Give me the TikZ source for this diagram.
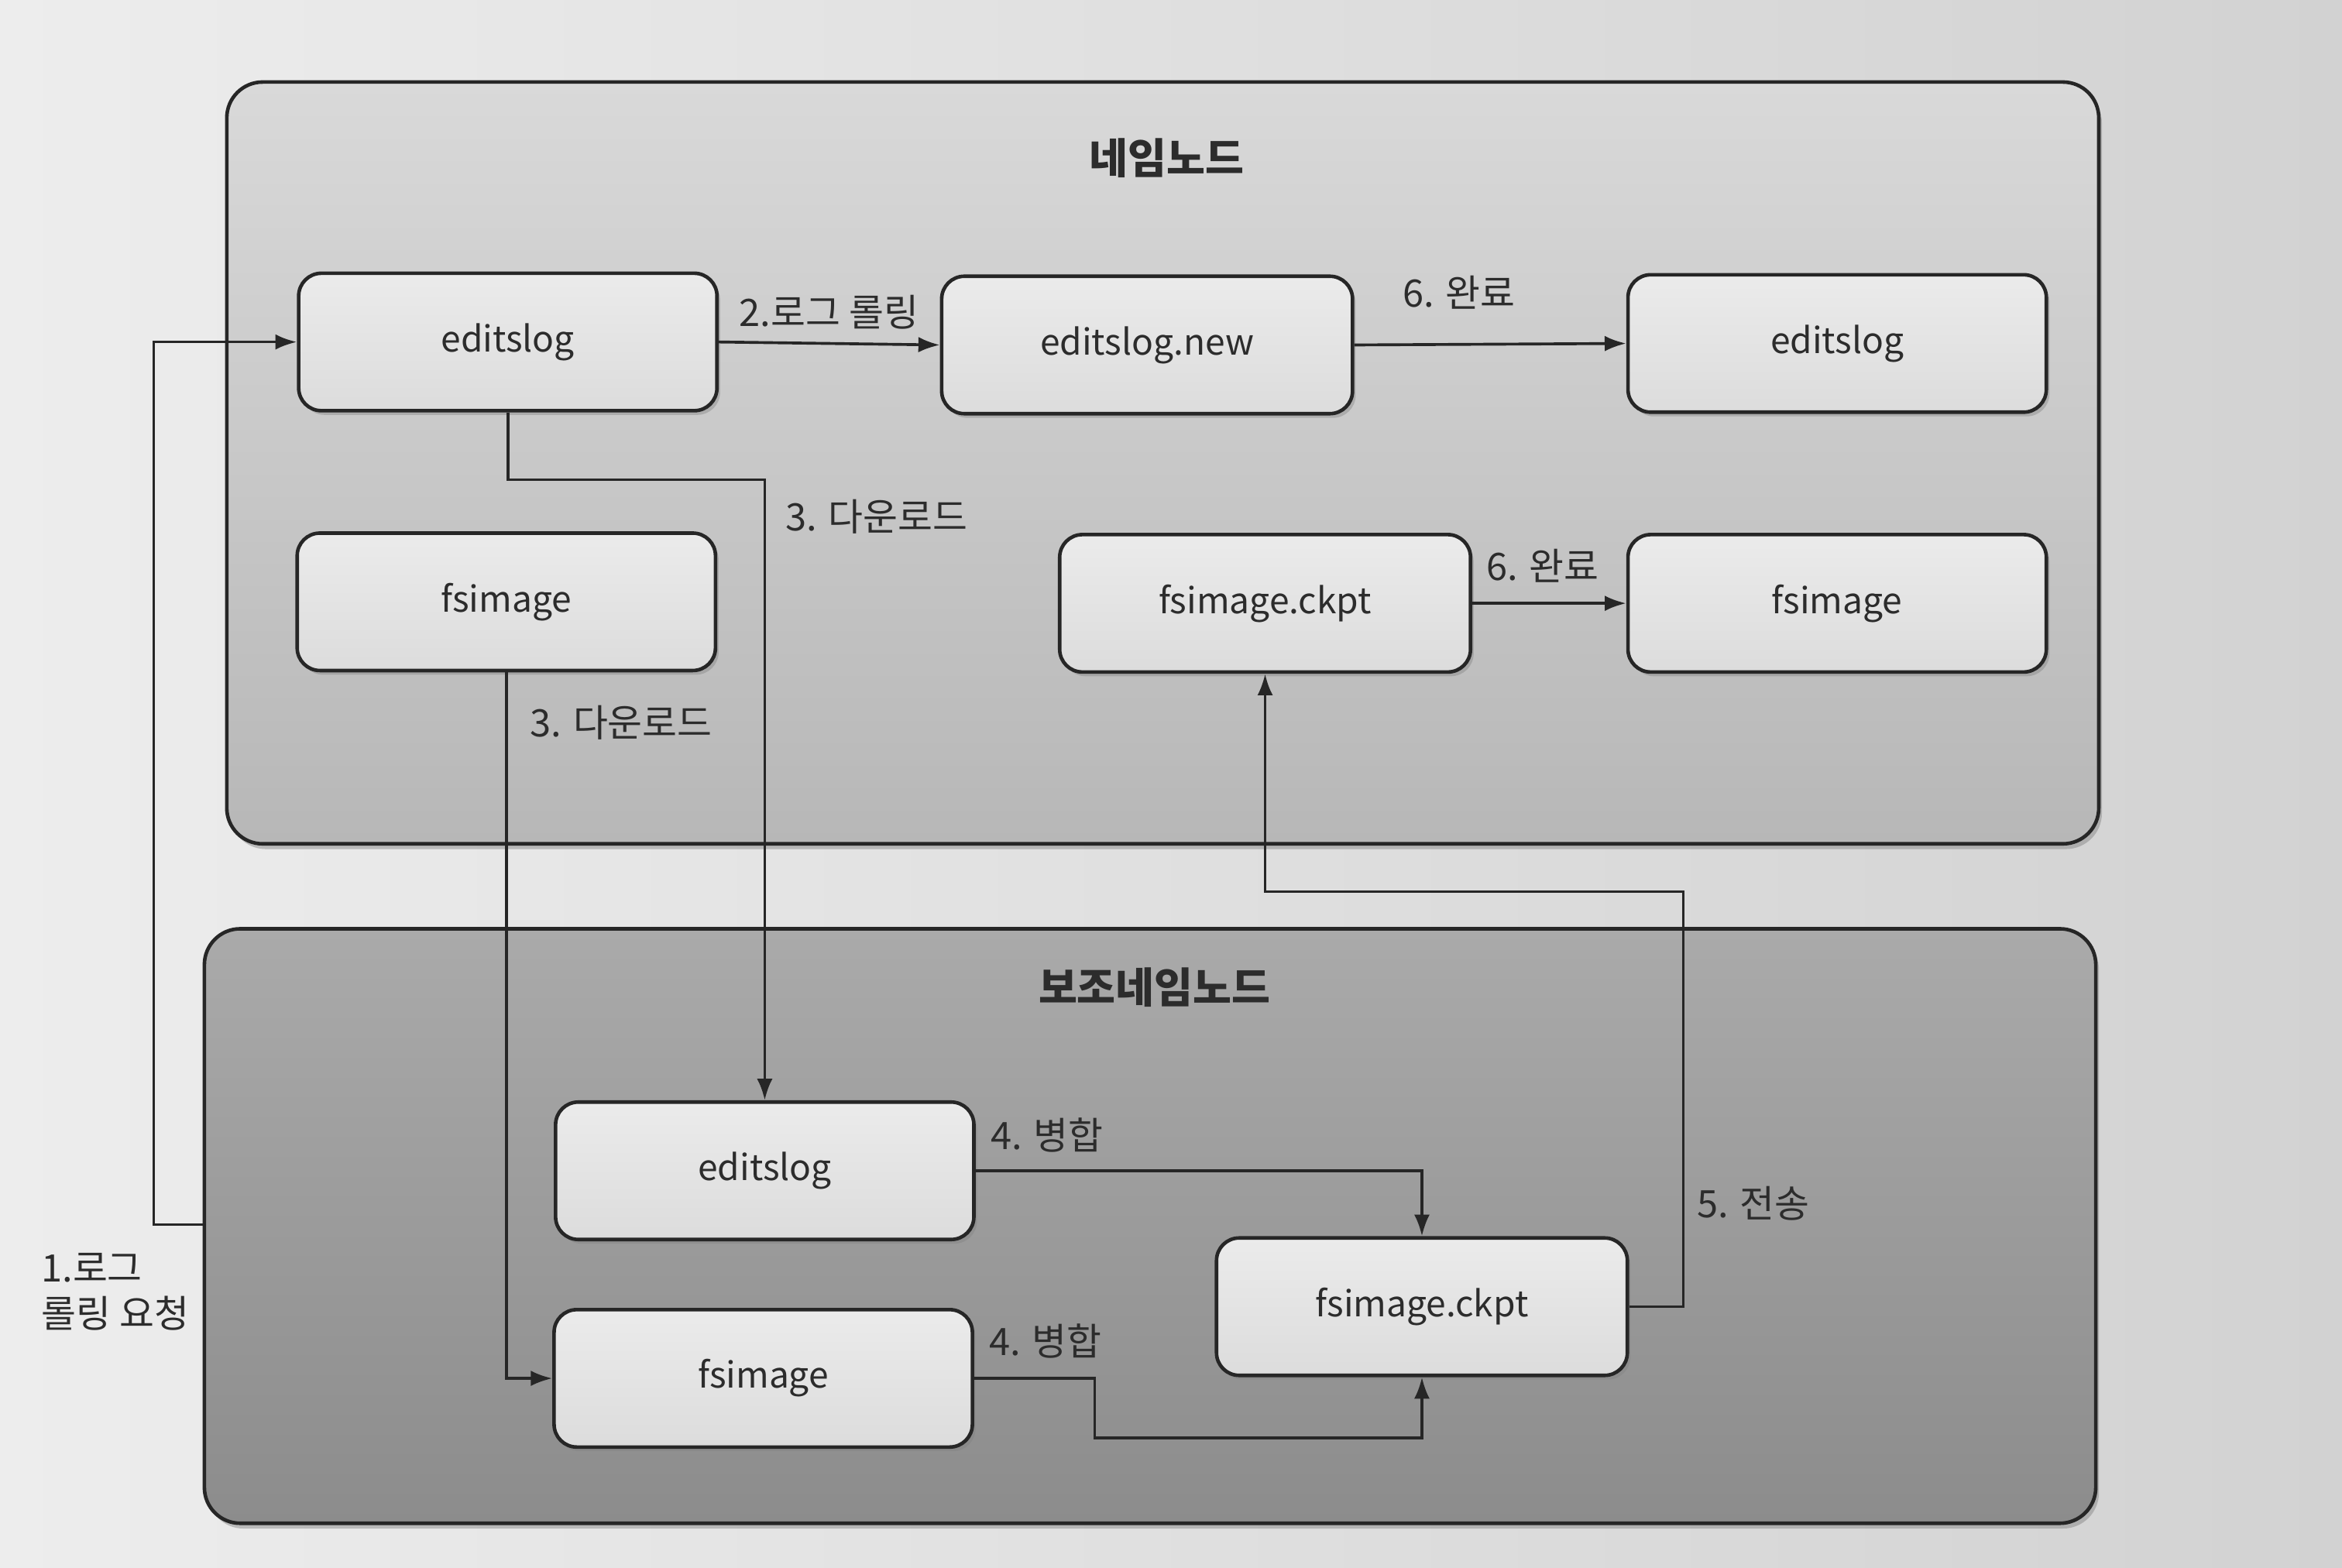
\documentclass[tikz,border=0pt]{standalone}
\usepackage{fontspec}
\setmainfont{Noto Sans CJK KR}
\usetikzlibrary{shadows,calc,arrows.meta}
\definecolor{pageL}{HTML}{EDEDED}
\definecolor{pageR}{HTML}{D2D2D2}
\definecolor{nnTop}{HTML}{D9D9D9}
\definecolor{nnBot}{HTML}{B7B7B7}
\definecolor{snTop}{HTML}{AAAAAA}
\definecolor{snBot}{HTML}{8C8C8C}
\definecolor{boxTop}{HTML}{EBEBEB}
\definecolor{boxBot}{HTML}{DCDCDC}
\definecolor{ink}{HTML}{262626}
\definecolor{txt}{HTML}{2C2C2C}
\begin{document}
\begin{tikzpicture}[x=0.025cm,y=-0.025cm,
  bigbox/.style={draw=ink, line width=1.7pt, rounded corners=6mm, inner sep=0pt,
    drop shadow={opacity=0.45, shadow xshift=1.5pt, shadow yshift=-2.5pt}},
  filebox/.style={draw=ink, line width=1.7pt, rounded corners=3.8mm, inner sep=0pt,
    top color=boxTop, bottom color=boxBot, minimum width=7cm, minimum height=2.3cm,
    text=txt, font=\fontsize{17}{20}\selectfont,
    drop shadow={opacity=0.4, shadow xshift=1.5pt, shadow yshift=-2pt}},
  title/.style={text=txt, font=\bfseries\fontsize{20}{24}\selectfont},
  lbl/.style={text=txt, font=\fontsize{18}{22}\selectfont, inner sep=1pt},
  conn/.style={draw=ink, line width=1.35pt, -{Latex[length=3.6mm,width=2.6mm]}}
]
\useasboundingbox (0,0) rectangle (1568,1050);
\shade[left color=pageL, right color=pageR] (0,0) rectangle (1568,1050);

% containers
\node[bigbox, top color=nnTop, bottom color=nnBot, minimum width=31.325cm, minimum height=12.75cm] (nn) at (778.5,310) {};
\node[bigbox, top color=snTop, bottom color=snBot, minimum width=31.65cm, minimum height=9.95cm] (sn) at (770,821) {};
\node[title] (nnt) at (781,106) {네임노드};
\node[title] (snt) at (773,661) {보조네임노드};

% name node files
\node[filebox] (e1) at (340,229) {editslog};
\node[filebox, minimum width=6.875cm] (e2) at (768,231) {editslog.new};
\node[filebox] (e3) at (1230,230) {editslog};
\node[filebox] (f1) at (339,403) {fsimage};
\node[filebox, minimum width=6.875cm] (c1) at (847,404) {fsimage.ckpt};
\node[filebox] (f3) at (1230,404) {fsimage};

% secondary name node files
\node[filebox] (be) at (512,784) {editslog};
\node[filebox] (bf) at (511,923) {fsimage};
\node[filebox, minimum width=6.875cm] (bc) at (952,875) {fsimage.ckpt};

% helper coordinates
\coordinate (r1) at (103,820);
\coordinate (m4) at (733,963);
\coordinate (t5) at (1127,597);

% connectors
\draw[conn] (sn.west |- r1) -- (r1) |- (e1.west);
\node[lbl, anchor=west, align=left] (l1) at (26,865) {1.로그\\롤링 요청};

\draw[conn] (e1.east) -- (e2.west);
\node[lbl] (l2) at (555,209) {2.로그 롤링};

\draw[conn] (e2.east) -- (e3.west);
\node[lbl] (l6a) at (977,196) {6. 완료};

\draw[conn] (c1.east) -- (f3.west);
\node[lbl] (l6b) at (1033,379) {6. 완료};

\draw[conn] (e1.south) -- ++(0,45) -| (be.north);
\node[lbl] (l3a) at (587,346) {3. 다운로드};

\draw[conn] (f1.south) |- (bf.west);
\node[lbl] (l3b) at (416,484) {3. 다운로드};

\draw[conn] (be.east) -| (bc.north);
\node[lbl] (l4a) at (701,760) {4. 병합};

\draw[conn] (bf.east) -| (m4) -| (bc.south);
\node[lbl] (l4b) at (700,898) {4. 병합};

\draw[conn] (bc.east) -| (t5) -| (c1.south);
\node[lbl] (l5) at (1174,806) {5. 전송};
\end{tikzpicture}
\end{document}
